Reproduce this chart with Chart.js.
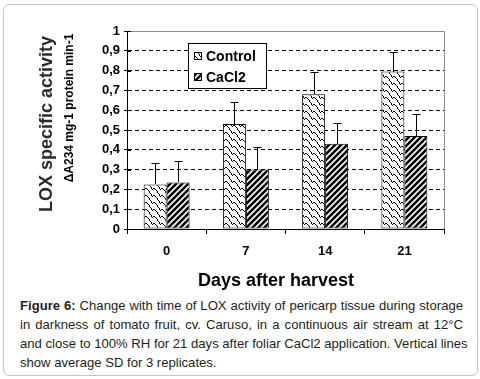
<!DOCTYPE html>
<html>
<head>
<meta charset="utf-8">
<script src="https://cdn.jsdelivr.net/npm/chart.js@4.4.1/dist/chart.umd.min.js"></script>
<style>
  html, body { margin: 0; padding: 0; background: #fff; }
  body { width: 480px; height: 379px; position: relative; overflow: hidden; font-family: "Liberation Sans", Arial, sans-serif; }
  #frame { position: absolute; left: 3px; top: 4px; width: 473px; height: 370px; border: 1px solid #c4c4c4; border-radius: 6px; }
  #chartBox { position: absolute; left: 0; top: 0; width: 480px; height: 295px; }
  #caption { position: absolute; left: 20px; top: 296px; width: 443px; font-size: 13.1px; line-height: 19px; color: #231f20; }
  #caption div { text-align: justify; text-align-last: justify; white-space: nowrap; }
  #caption div.last { text-align-last: left; }
</style>
</head>
<body>
<div id="frame"></div>
<div id="chartBox"><canvas id="loxChart" width="480" height="295"></canvas></div>
<div id="caption">
  <div><b>Figure 6:</b> Change with time of LOX activity of pericarp tissue during storage</div>
  <div>in darkness of tomato fruit, cv. Caruso, in a continuous air stream at 12°C</div>
  <div>and close to 100% RH for 21 days after foliar CaCl2 application. Vertical lines</div>
  <div class="last">show average SD for 3 replicates.</div>
</div>
<script>
// data
const days = ['0', '7', '14', '21'];
const controlMean = [0.225, 0.53, 0.68, 0.795];
const controlSD = [0.11, 0.11, 0.115, 0.10];
const cacl2Mean = [0.235, 0.30, 0.43, 0.47];
const cacl2SD = [0.11, 0.115, 0.105, 0.11];
const yTicks = [0, 0.1, 0.2, 0.3, 0.4, 0.5, 0.6, 0.7, 0.8, 0.9, 1];

// fill patterns
function wavePattern() {
  const W = 8, H = 7;
  const c = document.createElement('canvas');
  c.width = W; c.height = H;
  const g = c.getContext('2d');
  g.fillStyle = '#fff';
  g.fillRect(0, 0, W, H);
  g.fillStyle = '#000';
  const dot = (x, y) => g.fillRect(((x % W) + W) % W, ((y % H) + H) % H, 1, 1);
  // short rise with a flat hook, then a long drop (wraps round the tile)
  [[0, 0], [1, -1], [2, -1], [3, 0], [4, 1], [5, 2], [5, 3], [6, 4], [7, 5], [7, 6]].forEach(p => dot(p[0], p[1]));
  return g.createPattern(c, 'repeat');
}

function stripePattern() {
  const c = document.createElement('canvas');
  c.width = 6; c.height = 6;
  const g = c.getContext('2d');
  g.fillStyle = '#fff';
  g.fillRect(0, 0, 6, 6);
  g.strokeStyle = '#000';
  g.lineWidth = 2.6;
  g.beginPath();
  g.moveTo(-1, 7); g.lineTo(7, -1);
  g.moveTo(-4, 4); g.lineTo(4, -4);
  g.moveTo(2, 10); g.lineTo(10, 2);
  g.stroke();
  return g.createPattern(c, 'repeat');
}

const ctx = document.getElementById('loxChart');
const sdLists = [controlSD, cacl2SD];

// error bars: upward line with a small cap
const errorBars = {
  id: 'errorBars',
  afterDatasetsDraw(chart) {
    const c = chart.ctx;
    const y = chart.scales.y;
    c.save();
    c.strokeStyle = '#000';
    c.lineWidth = 1;
    chart.data.datasets.forEach((ds, di) => {
      chart.getDatasetMeta(di).data.forEach((bar, i) => {
        const x = Math.round(bar.x) + 0.5;
        const top = Math.round(y.getPixelForValue(ds.data[i] + sdLists[di][i])) + 0.5;
        c.beginPath();
        c.moveTo(x, Math.round(bar.y));
        c.lineTo(x, top);
        c.moveTo(x - 4, top);
        c.lineTo(x + 4, top);
        c.stroke();
      });
    });
    c.restore();
  }
};

// titles, frame, inner tick marks and legend box
const decorations = {
  id: 'decorations',
  beforeDatasetsDraw(chart) {
    const c = chart.ctx;
    const a = chart.chartArea;
    const left = Math.round(a.left);
    c.save();
    c.strokeStyle = '#8c8c8c';
    c.lineWidth = 1;
    c.beginPath();
    c.moveTo(left, Math.round(a.top) + 0.5);
    c.lineTo(Math.round(a.right) + 0.5, Math.round(a.top) + 0.5);
    c.lineTo(Math.round(a.right) + 0.5, a.bottom);
    c.stroke();
    // y ticks cross the axis
    c.strokeStyle = '#000';
    c.beginPath();
    yTicks.forEach(v => {
      const py = Math.round(chart.scales.y.getPixelForValue(v)) + 0.5;
      c.moveTo(left, py);
      c.lineTo(left + 4, py);
    });
    c.stroke();
    c.restore();
  },
  afterDraw(chart) {
    const c = chart.ctx;
    c.save();
    c.fillStyle = '#000';
    c.textAlign = 'center';
    c.textBaseline = 'middle';
    c.font = 'bold 18px "Liberation Sans", Arial, sans-serif';
    c.fillText('Days after harvest', 276, 281);

    c.translate(47, 124);
    c.rotate(-Math.PI / 2);
    c.fillStyle = '#2a2a2a';
    c.font = 'bold 18px "Liberation Sans", Arial, sans-serif';
    c.fillText('LOX specific activity', 0, 0);
    c.restore();

    c.save();
    c.translate(70, 108);
    c.rotate(-Math.PI / 2);
    c.textAlign = 'center';
    c.textBaseline = 'middle';
    c.fillStyle = '#000';
    c.font = 'bold 12px "Liberation Sans", Arial, sans-serif';
    c.fillText('\u0394A234 mg-1 protein min-1', 0, 0);
    c.restore();

    // legend
    c.save();
    c.fillStyle = '#fff';
    c.fillRect(188, 43, 79, 46);
    c.strokeStyle = '#000';
    c.lineWidth = 1;
    c.strokeRect(188.5, 43.5, 78, 45);
    c.font = 'bold 14px "Liberation Sans", Arial, sans-serif';
    c.textBaseline = 'middle';
    c.textAlign = 'left';
    chart.data.datasets.forEach((ds, i) => {
      const yy = 56 + i * 21;
      c.fillStyle = ds.backgroundColor;
      c.fillRect(194, yy - 4, 8, 8);
      c.strokeRect(194.5, yy - 3.5, 7, 7);
      c.fillStyle = '#000';
      c.fillText(ds.label, 206, yy + 1);
    });
    c.restore();
  }
};

new Chart(ctx, {
  type: 'bar',
  data: {
    labels: days,
    datasets: [{
      label: 'Control',
      data: controlMean,
      backgroundColor: wavePattern(),
      borderColor: '#000',
      borderWidth: 1,
      borderSkipped: false
    }, {
      label: 'CaCl2',
      data: cacl2Mean,
      backgroundColor: stripePattern(),
      borderColor: '#000',
      borderWidth: 1,
      borderSkipped: false
    }]
  },
  options: {
    responsive: false,
    animation: false,
    devicePixelRatio: 1,
    layout: { padding: { left: 0, top: 31, right: 36, bottom: 0 } },
    categoryPercentage: 0.58,
    barPercentage: 1,
    plugins: {
      legend: { display: false },
      tooltip: { enabled: false }
    },
    scales: {
      x: {
        afterFit: s => { s.height = 66; },
        grid: { drawOnChartArea: false, drawTicks: true, tickLength: 5, tickColor: '#000', offset: true },
        border: { display: true, color: '#000', width: 1 },
        ticks: {
          color: '#000',
          padding: 10,
          font: { family: '"Liberation Sans", Arial, sans-serif', size: 13, weight: 'bold' }
        }
      },
      y: {
        min: 0,
        max: 1,
        afterFit: s => { s.width = 127; },
        afterBuildTicks: s => { s.ticks = yTicks.map(v => ({ value: v })); },
        grid: {
          color: c => (c.tick.value === 0 || c.tick.value === 1) ? 'rgba(0,0,0,0)' : '#000',
          tickColor: '#000',
          tickLength: 3,
          drawTicks: true
        },
        border: { display: true, color: '#000', width: 1, dash: [4, 3] },
        ticks: {
          color: '#000',
          padding: 4,
          font: { family: '"Liberation Sans", Arial, sans-serif', size: 13, weight: 'bold' },
          callback: v => String(v).replace('.', ',')
        }
      }
    }
  },
  plugins: [decorations, errorBars]
});
</script>
</body>
</html>
